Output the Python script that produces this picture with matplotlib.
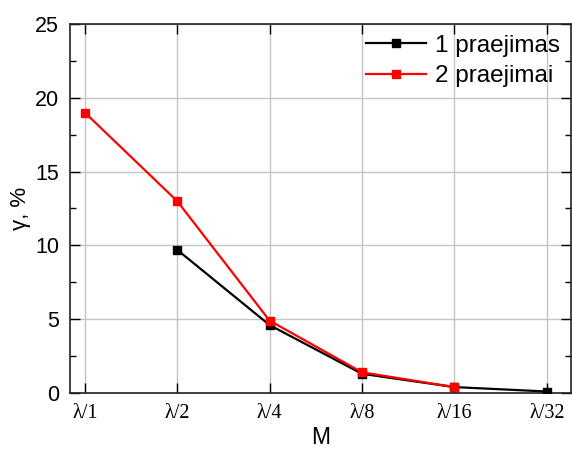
import matplotlib
matplotlib.use("Agg")
import matplotlib.pyplot as plt
from matplotlib.ticker import MultipleLocator
import numpy as np

# Mask step labels and measured losses
categories = ["λ/1", "λ/2", "λ/4", "λ/8", "λ/16", "λ/32"]
pass1 = [np.nan, 9.7, 4.6, 1.3, 0.4, 0.1]
pass2 = [19.0, 13.0, 4.9, 1.4, 0.4, np.nan]
series_names = ["1 praejimas", "2 praejimai"]

fig = plt.figure(figsize=(5.72, 4.5), dpi=100)
ax = fig.add_axes([0.1224, 0.1267, 0.8756, 0.82])

x = np.arange(len(categories))
ax.plot(x, pass1, color="black", lw=1.6, marker="s", ms=6, label=series_names[0], zorder=3)
ax.plot(x, pass2, color="red", lw=1.6, marker="s", ms=6, label=series_names[1], zorder=4)

ax.set_xlim(-0.16, 5.26)
ax.set_ylim(0, 25)
ax.set_xticks(x)
ax.set_xticklabels(categories, family="Liberation Serif", fontsize=14.5)
ax.yaxis.set_major_locator(MultipleLocator(5))
ax.yaxis.set_minor_locator(MultipleLocator(2.5))
for lab in ax.get_yticklabels():
    lab.set_family("Liberation Sans")
    lab.set_fontsize(15.5)

ax.tick_params(which="major", direction="in", length=7, width=1, top=True, right=True, pad=8)
ax.tick_params(which="minor", direction="in", length=4.5, width=1, right=True)
ax.tick_params(axis="x", which="minor", bottom=False, top=False)

ax.grid(True, which="major", color="#c4c4c4", lw=1)
ax.set_axisbelow(True)
for sp in ax.spines.values():
    sp.set_linewidth(1.2)
    sp.set_color("#222222")

ax.set_xlabel("M", family="Liberation Sans", fontsize=16.5, labelpad=2)
ax.set_ylabel("γ, %", family="Liberation Sans", fontsize=16, labelpad=3)

leg = ax.legend(loc="upper right", frameon=False, prop={"family": "Liberation Sans", "size": 17.5},
                handlelength=2.5, handletextpad=0.35, labelspacing=0.35,
                borderaxespad=0.05, bbox_to_anchor=(1.0, 1.0))

fig.savefig("out.png", dpi=100)
